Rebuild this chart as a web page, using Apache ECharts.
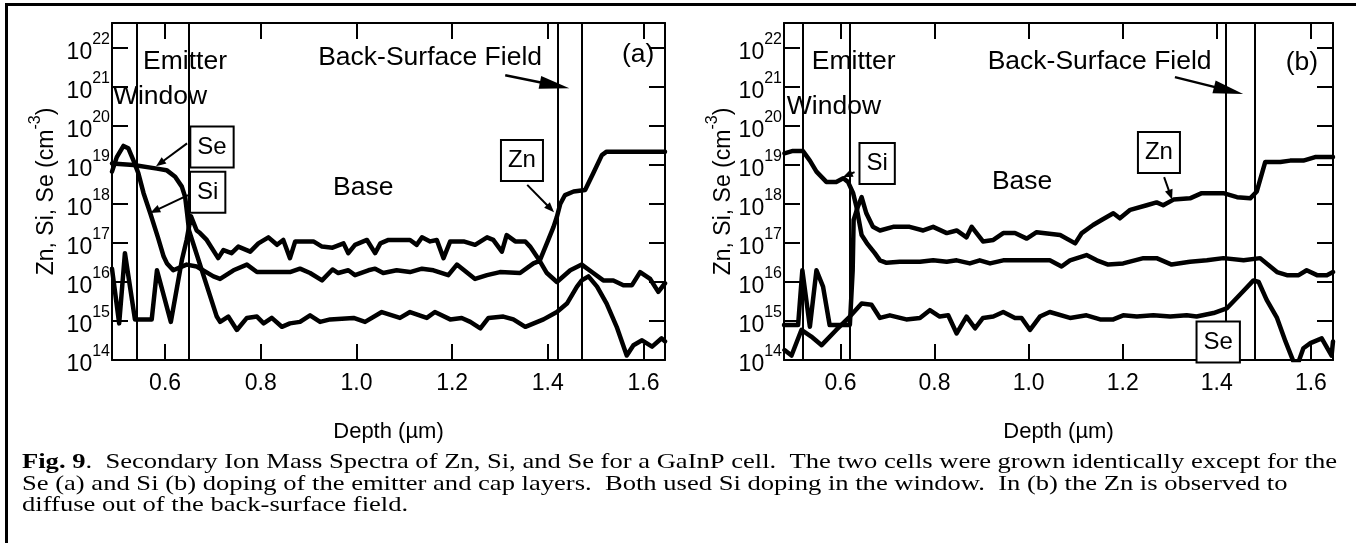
<!DOCTYPE html>
<html>
<head>
<meta charset="utf-8">
<title>SIMS depth profiles of Zn, Si and Se in GaInP cells</title>
<script src="https://cdn.jsdelivr.net/npm/echarts@6/dist/echarts.min.js"></script>
<style>
  html, body { margin: 0; padding: 0; background: #fff; }
  #chart { width: 1356px; height: 543px; }
</style>
</head>
<body>
<div id="chart"></div>
<script>
// ---------- Depth axis ranges (µm) and concentration range (cm^-3) ----------
const depthRangeA = [0.489, 1.645];
const depthRangeB = [0.480, 1.647];
const concRange = [1e14, 4.4e22];

// ---------- Layer boundaries (µm): window|emitter, emitter|base, base|BSF, BSF|substrate ----------
const layersA = [0.539, 0.650, 1.417, 1.472];
const layersB = [0.524, 0.622, 1.422, 1.477];

// ---------- Panel (a): Se-doped emitter — [depth µm, concentration cm^-3] ----------
const znA = [[0.489,2.2e16],[0.504,8.7e14],[0.516,5.5e16],[0.537,1.1e15],[0.572,1.1e15],[0.583,2.0e16],[0.612,9.5e14],
  [0.635,3.6e16],[0.645,1.2e17],[0.654,4.9e17],[0.666,2.1e17],[0.673,1.8e17],[0.687,1.2e17],[0.711,4.1e16],[0.722,6.6e16],
  [0.739,5.5e16],[0.753,8.1e16],[0.778,6.0e16],[0.795,9.8e16],[0.816,1.4e17],[0.834,9.0e16],[0.847,1.2e17],[0.861,4.1e16],
  [0.872,1.1e17],[0.910,1.1e17],[0.928,8.1e16],[0.950,7.6e16],[0.973,9.8e16],[0.983,5.5e16],[0.997,9.0e16],[1.022,1.2e17],
  [1.039,5.5e16],[1.050,9.8e16],[1.067,1.2e17],[1.112,1.2e17],[1.126,9.0e16],[1.137,1.4e17],[1.154,1.1e17],[1.168,1.2e17],
  [1.182,4.1e16],[1.196,1.1e17],[1.224,1.1e17],[1.248,9.0e16],[1.273,1.4e17],[1.286,1.2e17],[1.304,6.0e16],[1.314,1.6e17],
  [1.332,1.1e17],[1.353,1.1e17],[1.363,8.1e16],[1.383,3.5e16],[1.401,1.2e17],[1.412,2.6e17],[1.419,4.7e17],[1.426,1.0e18],
  [1.436,1.7e18],[1.454,2.1e18],[1.478,2.3e18],[1.495,6.2e18],[1.513,1.8e19],[1.523,2.2e19],[1.645,2.2e19]];

const siA = [[0.489,6.8e18],[0.499,1.6e19],[0.513,3.1e19],[0.523,2.7e19],[0.534,1.3e19],[0.544,6.2e18],[0.555,1.9e18],
  [0.569,5.8e17],[0.585,1.4e17],[0.597,4.5e16],[0.604,3.0e16],[0.617,2.0e16],[0.645,2.8e16],[0.666,2.5e16],[0.701,1.4e16],
  [0.715,1.2e16],[0.743,2.0e16],[0.771,2.8e16],[0.792,1.8e16],[0.813,1.8e16],[0.861,1.8e16],[0.882,2.2e16],[0.903,1.7e16],
  [0.928,1.1e16],[0.950,2.1e16],[0.962,1.7e16],[0.983,2.0e16],[0.997,1.5e16],[1.025,2.0e16],[1.039,2.2e16],[1.056,1.7e16],
  [1.084,2.0e16],[1.112,1.8e16],[1.137,2.2e16],[1.161,2.0e16],[1.192,1.5e16],[1.210,2.8e16],[1.248,1.2e16],[1.273,1.5e16],
  [1.300,1.8e16],[1.342,1.7e16],[1.370,3.0e16],[1.383,3.5e16],[1.398,1.7e16],[1.419,1.0e16],[1.447,2.0e16],[1.471,2.8e16],
  [1.495,1.7e16],[1.516,1.1e16],[1.537,1.1e16],[1.558,8.3e15],[1.576,8.3e15],[1.593,1.8e16],[1.614,1.2e16],[1.631,5.6e15],
  [1.645,9.3e15]];

const seA = [[0.489,1.1e19],[0.534,1.0e19],[0.583,8.1e18],[0.603,7.4e18],[0.621,5.0e18],[0.635,2.8e18],[0.642,1.5e18],
  [0.646,5.8e17],[0.650,2.1e17],[0.708,1.3e15],[0.715,9.5e14],[0.732,1.3e15],[0.750,5.9e14],[0.771,1.2e15],[0.792,1.3e15],
  [0.806,8.7e14],[0.823,1.2e15],[0.844,7.1e14],[0.861,8.7e14],[0.882,9.5e14],[0.903,1.4e15],[0.924,9.5e14],[0.945,1.1e15],
  [0.994,1.2e15],[1.018,9.5e14],[1.053,1.7e15],[1.091,1.2e15],[1.112,1.7e15],[1.147,1.2e15],[1.164,1.7e15],[1.196,1.1e15],
  [1.220,1.2e15],[1.238,9.5e14],[1.259,6.5e14],[1.276,1.2e15],[1.307,1.3e15],[1.328,1.1e15],[1.353,7.1e14],[1.391,1.1e15],
  [1.419,1.7e15],[1.440,2.8e15],[1.461,7.6e15],[1.471,1.1e16],[1.485,1.4e16],[1.503,7.6e15],[1.523,2.8e15],[1.544,7.1e14],
  [1.565,1.3e14],[1.579,2.4e14],[1.597,3.2e14],[1.618,2.2e14],[1.638,3.6e14],[1.645,3.0e14]];

// ---------- Panel (b): Si-doped emitter ----------
const znB = [[0.480,7.9e14],[0.510,7.9e14],[0.519,2.0e16],[0.535,7.1e14],[0.549,2.0e16],[0.563,7.6e15],[0.577,7.9e14],
  [0.620,7.9e14],[0.626,2.0e16],[0.628,3.9e17],[0.637,8.5e17],[0.645,1.5e18],[0.655,5.8e17],[0.669,2.6e17],[0.684,2.1e17],
  [0.712,2.6e17],[0.747,2.6e17],[0.776,2.1e17],[0.797,2.6e17],[0.826,1.8e17],[0.847,2.1e17],[0.868,1.4e17],[0.879,2.6e17],
  [0.903,1.1e17],[0.925,1.2e17],[0.946,1.8e17],[0.971,1.8e17],[0.996,1.3e17],[1.017,1.9e17],[1.067,1.6e17],[1.099,9.8e16],
  [1.113,1.8e17],[1.137,2.9e17],[1.155,3.9e17],[1.180,5.8e17],[1.194,4.3e17],[1.216,7.1e17],[1.251,9.3e17],[1.272,1.1e18],
  [1.286,9.3e17],[1.308,1.3e18],[1.343,1.4e18],[1.368,1.9e18],[1.414,1.9e18],[1.443,1.5e18],[1.471,1.4e18],[1.485,2.1e18],
  [1.503,1.2e19],[1.535,1.2e19],[1.556,1.3e19],[1.584,1.3e19],[1.609,1.6e19],[1.647,1.6e19]];

const siB = [[0.481,2.0e19],[0.499,2.3e19],[0.520,2.3e19],[0.535,1.3e19],[0.549,6.8e18],[0.570,3.7e18],[0.591,3.7e18],
  [0.606,4.6e18],[0.616,3.7e18],[0.627,1.9e18],[0.634,8.5e17],[0.645,1.6e17],[0.656,1.0e17],[0.673,5.5e16],[0.684,3.6e16],
  [0.698,3.1e16],[0.726,3.3e16],[0.769,3.3e16],[0.797,3.6e16],[0.826,3.3e16],[0.847,3.6e16],[0.875,3.0e16],[0.896,3.6e16],
  [0.918,3.0e16],[0.946,3.6e16],[0.975,3.6e16],[1.003,3.6e16],[1.045,3.6e16],[1.070,2.5e16],[1.088,3.6e16],[1.123,4.9e16],
  [1.145,3.6e16],[1.169,2.8e16],[1.201,3.0e16],[1.244,4.1e16],[1.272,4.1e16],[1.304,2.8e16],[1.343,3.3e16],[1.379,3.6e16],
  [1.414,4.1e16],[1.457,3.6e16],[1.492,4.1e16],[1.528,1.8e16],[1.549,1.5e16],[1.574,1.5e16],[1.591,2.0e16],[1.613,1.5e16],
  [1.634,1.5e16],[1.647,1.8e16]];

const seB = [[0.481,1.8e14],[0.496,1.3e14],[0.517,5.9e14],[0.538,4.0e14],[0.560,2.4e14],[0.591,5.9e14],[0.620,1.3e15],
  [0.645,2.8e15],[0.666,2.6e15],[0.684,1.2e15],[0.705,1.4e15],[0.740,1.1e15],[0.769,1.2e15],[0.790,1.9e15],[0.811,1.3e15],
  [0.829,1.4e15],[0.847,4.8e14],[0.868,1.3e15],[0.886,6.5e14],[0.903,1.2e15],[0.925,1.3e15],[0.946,1.7e15],[0.971,1.2e15],
  [0.985,1.2e15],[1.003,5.9e14],[1.024,1.3e15],[1.045,1.7e15],[1.088,1.2e15],[1.123,1.4e15],[1.152,1.1e15],[1.180,1.1e15],
  [1.201,1.4e15],[1.230,1.3e15],[1.265,1.4e15],[1.301,1.3e15],[1.336,1.4e15],[1.357,1.3e15],[1.393,1.6e15],[1.421,2.1e15],
  [1.449,4.7e15],[1.478,1.1e16],[1.489,1.0e16],[1.506,3.5e15],[1.528,1.2e15],[1.546,3.0e14],[1.563,9.1e13],[1.574,9.1e13],
  [1.584,2.0e14],[1.599,2.7e14],[1.623,3.6e14],[1.644,1.3e14],[1.647,3.0e14]];

// ---------- Annotations, anchored in data coordinates [depth, concentration] ----------
const regionNotesA = [['Emitter', 0.554, 4.4e21], ['Window', 0.491, 5.5e20], ['Back-Surface Field', 0.920, 5.5e21], ['Base', 0.951, 2.6e18]];
const regionNotesB = [['Emitter', 0.539, 4.4e21], ['Window', 0.486, 3.1e20], ['Back-Surface Field', 0.913, 4.4e21], ['Base', 0.922, 3.6e18]];
const panelTags = [['(a)', 1.589, 6.6e21], ['(b)', 1.581, 4.1e21]];
const speciesBoxesA = [['Se', 0.698, 2.9e19], ['Si', 0.689, 2.0e18], ['Zn', 1.346, 1.3e19]];
const speciesBoxesB = [['Si', 0.678, 1.1e19], ['Zn', 1.277, 2.1e19], ['Se', 1.403, 2.9e14]];
// pointer arrows: [fromDepth, fromConc, toDepth, toConc]
const pointersA = [[0.646, 3.6e19, 0.581, 9.3e18], [0.648, 1.7e18, 0.569, 5.9e17], [1.357, 3.1e18, 1.413, 6.2e17]];
const pointersB = [[0.630, 6.6e18, 0.605, 4.9e18], [1.288, 4.9e18, 1.305, 1.3e18]];
const bsfArrows = [[1.311, 2.0e21, 1.445, 9.3e20], [1.311, 1.8e21, 1.456, 6.6e20]];

const captionLines = [
  ['Fig. 9', '.  Secondary Ion Mass Spectra of Zn, Si, and Se for a GaInP cell.  The two cells were grown identically except for the'],
  ['', 'Se (a) and Si (b) doping of the emitter and cap layers.  Both used Si doping in the window.  In (b) the Zn is observed to'],
  ['', 'diffuse out of the back-surface field.']
];

// ---------- Styling ----------
const SANS = '"Liberation Sans", Arial, Helvetica, sans-serif';
const SERIF = '"Liberation Serif", "Times New Roman", Times, serif';
const BLACK = '#000';

function decadeLabel(v) {
  const e = Math.log10(v);
  const r = Math.round(e);
  if (Math.abs(e - r) > 1e-6) return '';
  return '{b|10}{s|' + r + '}';
}
const decadeRich = {
  b: { fontSize: 23, fontFamily: SANS, color: BLACK, padding: [9, 0, 0, 0], verticalAlign: 'top' },
  s: { fontSize: 16, fontFamily: SANS, color: BLACK, verticalAlign: 'top' }
};

function depthAxes(gridIndex, range) {
  const common = {
    type: 'value', gridIndex, min: range[0], max: range[1], splitNumber: 5,
    splitLine: { show: false },
    axisLine: { show: true, onZero: false, lineStyle: { color: BLACK, width: 2 } },
    axisTick: { show: true, inside: true, length: 16, lineStyle: { color: BLACK, width: 2 } }
  };
  return [
    Object.assign({}, common, {
      position: 'bottom',
      axisLabel: { color: BLACK, fontFamily: SANS, fontSize: 23, margin: 12,
        showMinLabel: false, showMaxLabel: false, formatter: v => v.toFixed(1) },
      name: 'Depth (µm)', nameLocation: 'middle', nameGap: 61,
      nameTextStyle: { color: BLACK, fontFamily: SANS, fontSize: 22 }
    }),
    Object.assign({}, common, { position: 'top', axisLabel: { show: false } })
  ];
}

function concAxes(gridIndex, nameGap) {
  const common = {
    type: 'log', logBase: 10, gridIndex, min: concRange[0], max: concRange[1],
    splitLine: { show: false },
    axisLine: { show: true, onZero: false, lineStyle: { color: BLACK, width: 2 } },
    axisTick: { show: true, inside: true, length: 16, lineStyle: { color: BLACK, width: 2 } }
  };
  return [
    Object.assign({}, common, {
      position: 'left',
      axisLabel: { margin: 2, showMaxLabel: false, formatter: decadeLabel, rich: decadeRich },
      name: '{a|Zn, Si, Se (cm}{s|-3}{a|)}', nameLocation: 'middle', nameGap: nameGap,
      nameTextStyle: {
        color: BLACK, fontFamily: SANS, fontSize: 23,
        rich: {
          a: { fontSize: 23, fontFamily: SANS, color: BLACK, padding: [7, 0, 0, 0], verticalAlign: 'top' },
          s: { fontSize: 16, fontFamily: SANS, color: BLACK, verticalAlign: 'top' }
        }
      }
    }),
    Object.assign({}, common, { position: 'right', axisLabel: { show: false } })
  ];
}

const profileLine = { color: BLACK, width: 4.5, cap: 'round', join: 'round' };
function profile(name, data, axisIdx, layers) {
  const s = {
    name, type: 'line', data, xAxisIndex: axisIdx, yAxisIndex: axisIdx,
    symbol: 'none', showSymbol: false, clip: true, animation: false, silent: true,
    lineStyle: profileLine, itemStyle: { color: BLACK }
  };
  if (layers) {
    s.markLine = {
      silent: true, animation: false, symbol: ['none', 'none'], label: { show: false },
      lineStyle: { color: BLACK, width: 2, type: 'solid' },
      data: layers.map(d => ({ xAxis: d }))
    };
  }
  return s;
}

const option = {
  backgroundColor: '#fff',
  animation: false,
  grid: [
    { left: 112, right: 691, top: 23, bottom: 183, outerBoundsMode: 'none' },
    { left: 784, right: 23, top: 23, bottom: 183, outerBoundsMode: 'none' }
  ],
  xAxis: [...depthAxes(0, depthRangeA), ...depthAxes(1, depthRangeB)],
  yAxis: [...concAxes(0, 54), ...concAxes(1, 47)],
  series: [
    profile('Zn (a)', znA, 0, layersA),
    profile('Si (a)', siA, 0),
    profile('Se (a)', seA, 0),
    profile('Zn (b)', znB, 2, layersB),
    profile('Si (b)', siB, 2),
    profile('Se (b)', seB, 2)
  ]
};

const chart = echarts.init(document.getElementById('chart'), null, { renderer: 'canvas' });
chart.setOption(option);

// ---------- Annotation overlay ----------
function toPx(g, d, c) { return chart.convertToPixel({ gridIndex: g }, [d, c]); }

function arrowEls(p0, p1, headLen, headW, lineW) {
  const dx = p1[0] - p0[0], dy = p1[1] - p0[1];
  const len = Math.hypot(dx, dy), ux = dx / len, uy = dy / len;
  const bx = p1[0] - ux * headLen, by = p1[1] - uy * headLen;
  const nx = -uy * headW / 2, ny = ux * headW / 2;
  return [
    { type: 'line', z: 100, silent: true, shape: { x1: p0[0], y1: p0[1], x2: bx + ux, y2: by + uy },
      style: { stroke: BLACK, lineWidth: lineW } },
    { type: 'polygon', z: 100, silent: true, shape: { points: [[p1[0], p1[1]], [bx + nx, by + ny], [bx - nx, by - ny]] },
      style: { fill: BLACK } }
  ];
}

// region names are set a little wide, like the figure's lettering
function noteEl(text, p, align) {
  return { type: 'text', z: 100, silent: true, x: p[0], y: p[1], scaleX: 1.06,
    style: { text, fontFamily: SANS, fontSize: 25, fill: BLACK, align: align || 'left', verticalAlign: 'middle' } };
}

function boxEl(text, p) {
  return { type: 'text', z: 110, silent: true, x: p[0], y: p[1],
    style: { text, fontFamily: SANS, fontSize: 24, fill: BLACK, align: 'center', verticalAlign: 'middle',
      backgroundColor: '#fff', borderColor: BLACK, borderWidth: 2, padding: [8, 6, 7, 6] } };
}

const els = [];
[[0, regionNotesA, speciesBoxesA, pointersA], [1, regionNotesB, speciesBoxesB, pointersB]].forEach(([g, notes, boxes, ptrs]) => {
  notes.forEach(n => els.push(noteEl(n[0], toPx(g, n[1], n[2]))));
  els.push(noteEl(panelTags[g][0], toPx(g, panelTags[g][1], panelTags[g][2]), 'center'));
  ptrs.forEach(a => els.push(...arrowEls(toPx(g, a[0], a[1]), toPx(g, a[2], a[3]), 10, 8, 2)));
  const b = bsfArrows[g];
  els.push(...arrowEls(toPx(g, b[0], b[1]), toPx(g, b[2], b[3]), 30, 13, 2.5));
  boxes.forEach(bx => els.push(boxEl(bx[0], toPx(g, bx[1], bx[2]))));
});

// figure frame (top and left rules)
els.push({ type: 'line', z: 100, silent: true, shape: { x1: 5, y1: 4.5, x2: 1356, y2: 4.5 }, style: { stroke: BLACK, lineWidth: 3 } });
els.push({ type: 'line', z: 100, silent: true, shape: { x1: 6.5, y1: 3, x2: 6.5, y2: 543 }, style: { stroke: BLACK, lineWidth: 3 } });

// caption, fitted to the text block width
const capSize = 22;
const measure = document.createElement('canvas').getContext('2d');
function textW(str, bold) { measure.font = (bold ? 'bold ' : '') + capSize + 'px ' + SERIF; return measure.measureText(str).width; }
const firstW = textW(captionLines[0][0], true) + textW(captionLines[0][1], false);
const capScale = 1315 / firstW;
const capY = [462, 484, 505];
captionLines.forEach((ln, i) => {
  els.push({ type: 'text', z: 100, silent: true, x: 22, y: capY[i], scaleX: capScale,
    style: {
      text: (ln[0] ? '{b|' + ln[0] + '}' : '') + '{n|' + ln[1] + '}',
      fontFamily: SERIF, fontSize: capSize, fill: BLACK, align: 'left', verticalAlign: 'middle',
      rich: {
        b: { fontFamily: SERIF, fontSize: capSize, fontWeight: 'bold', fill: BLACK },
        n: { fontFamily: SERIF, fontSize: capSize, fill: BLACK }
      }
    } });
});

chart.setOption({ graphic: { elements: els } });
</script>
</body>
</html>
